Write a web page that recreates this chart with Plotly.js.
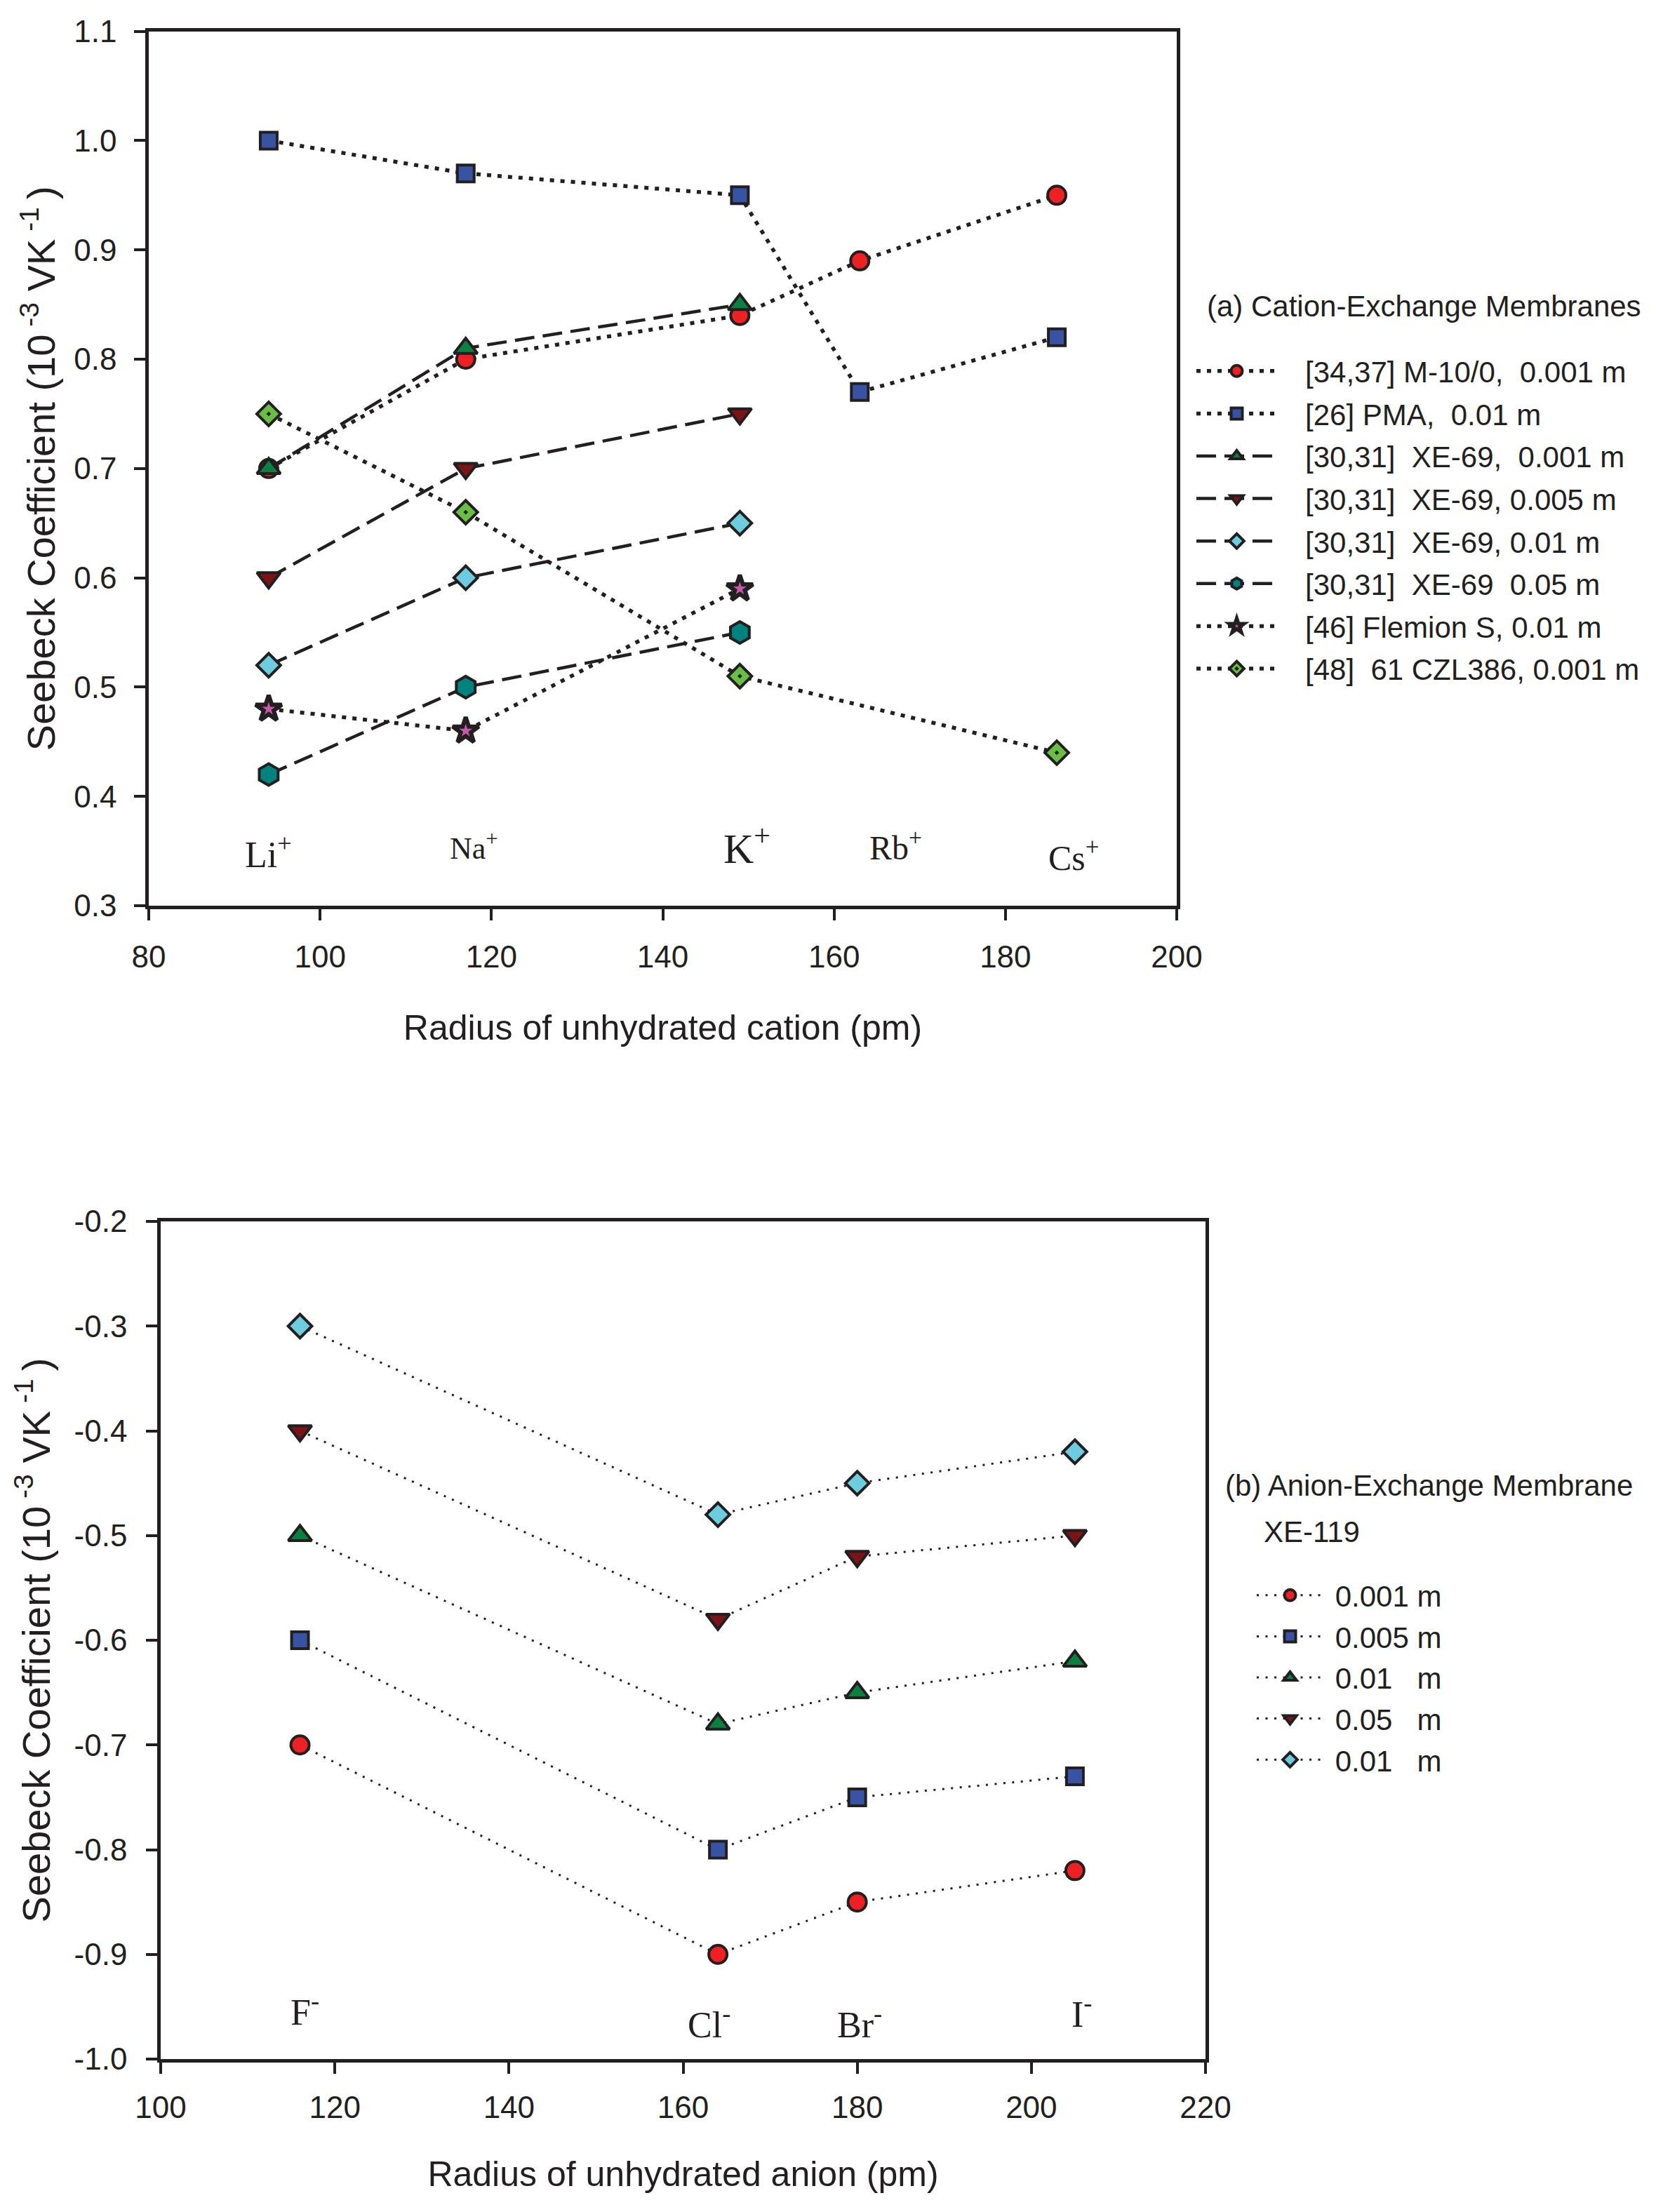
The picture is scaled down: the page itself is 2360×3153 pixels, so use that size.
<!DOCTYPE html>
<html>
<head>
<meta charset="utf-8">
<script src="https://cdn.plot.ly/plotly-3.0.1.min.js"></script>
<style>
  html, body { margin: 0; padding: 0; background: #fff; }
  #graph { width: 2360px; height: 3153px; }
</style>
</head>
<body>
<div id="graph"></div>
<script>
// ---- data ----
// (a) cation-exchange membranes, radius of unhydrated cation (pm)
var cationRadius = [94, 117, 149, 163, 186];
var cationLabels = ["Li<sup>+</sup>", "Na<sup>+</sup>", "K<sup>+</sup>", "Rb<sup>+</sup>", "Cs<sup>+</sup>"];
var m10_0001  = [0.70, 0.80, 0.84, 0.89, 0.95];
var pma_001   = [1.00, 0.97, 0.95, 0.77, 0.82];
var xe69_0001 = [0.70, 0.81, 0.85, null, null];
var xe69_0005 = [0.60, 0.70, 0.75, null, null];
var xe69_001  = [0.52, 0.60, 0.65, null, null];
var xe69_005  = [0.42, 0.50, 0.55, null, null];
var flemion   = [0.48, 0.46, 0.59, null, null];
var czl386    = [0.75, 0.66, 0.51, null, 0.44];

// (b) anion-exchange membrane XE-119, radius of unhydrated anion (pm)
var anionRadius = [116, 164, 180, 205];
var anionLabels = ["F<sup>-</sup>", "Cl<sup>-</sup>", "Br<sup>-</sup>", "I<sup>-</sup>"];
var xe119_0001 = [-0.70, -0.90, -0.85, -0.82];
var xe119_0005 = [-0.60, -0.80, -0.75, -0.73];
var xe119_001  = [-0.50, -0.68, -0.65, -0.62];
var xe119_005  = [-0.40, -0.58, -0.52, -0.50];
var xe119_001b = [-0.30, -0.48, -0.45, -0.42];

// tick labels
var cationTicks = [0.3, 0.4, 0.5, 0.6, 0.7, 0.8, 0.9, 1.0, 1.1];
var anionTicks = [-1.0, -0.9, -0.8, -0.7, -0.6, -0.5, -0.4, -0.3, -0.2];
var anionTickText = ["-1.0", "-0.9", "-0.8", "-0.7", "-0.6", "-0.5", "-0.4", "-0.3", "-0.2"];

// ---- styles ----
var INK = "#231F20";
var SANS = "Liberation Sans, Arial, sans-serif";
var SERIF = "Liberation Serif, Times New Roman, serif";
var DOT_A = "6px,9px";
var DASH_A = "28px,12px";
var DOT_B = "3px,9.5px";
var NB = "\u00A0";

var groupCount = 0;
function series(x, y, name, dash, lw, symbol, color, size, legend, xa, ya, mlw) {
  groupCount += 1;
  var pad = legend === "legend" ? NB + NB + NB : NB;
  return {
    x: x, y: y, name: pad + name, type: "scatter", mode: "lines+markers",
    xaxis: xa, yaxis: ya, legend: legend, legendgroup: "g" + groupCount,
    connectgaps: true,
    line: {color: INK, width: lw, dash: dash},
    marker: {symbol: symbol, color: color, size: size, line: {color: INK, width: mlw || 4}}
  };
}

var traces = [
  series(cationRadius, m10_0001,  "[34,37] M-10/0,  0.001 m", DOT_A, 5.5, "circle", "#ED2024", 26, "legend", "x", "y"),
  series(cationRadius, pma_001,   "[26] PMA,  0.01 m", DOT_A, 5.5, "square", "#3953A4", 24, "legend", "x", "y"),
  series(cationRadius, xe69_0001, "[30,31]  XE-69,  0.001 m", DASH_A, 4.5, "triangle-up", "#0B8040", 29, "legend", "x", "y"),
  series(cationRadius, xe69_0005, "[30,31]  XE-69, 0.005 m", DASH_A, 4.5, "triangle-down", "#7A1416", 29, "legend", "x", "y"),
  series(cationRadius, xe69_001,  "[30,31]  XE-69, 0.01 m", DASH_A, 4.5, "diamond", "#6DCCDD", 26, "legend", "x", "y"),
  series(cationRadius, xe69_005,  "[30,31]  XE-69  0.05 m", DASH_A, 4.5, "hexagon", "#00827F", 31, "legend", "x", "y"),
  series(cationRadius, flemion,   "[46] Flemion S, 0.01 m", DOT_A, 5.5, "star", "#C25BA8", 28, "legend", "x", "y", 6),
  series(cationRadius, czl386,    "[48]  61 CZL386, 0.001 m", DOT_A, 5.5, "diamond-dot", "#6ABD45", 26, "legend", "x", "y"),

  series(anionRadius, xe119_0001, "0.001 m", DOT_B, 3, "circle", "#ED2024", 26, "legend2", "x2", "y2"),
  series(anionRadius, xe119_0005, "0.005 m", DOT_B, 3, "square", "#3953A4", 24, "legend2", "x2", "y2"),
  series(anionRadius, xe119_001,  "0.01   m", DOT_B, 3, "triangle-up", "#0B8040", 29, "legend2", "x2", "y2"),
  series(anionRadius, xe119_005,  "0.05   m", DOT_B, 3, "triangle-down", "#7A1416", 29, "legend2", "x2", "y2"),
  series(anionRadius, xe119_001b, "0.01   m", DOT_B, 3, "diamond", "#6DCCDD", 26, "legend2", "x2", "y2")
];

function axisStyle(extra) {
  var a = {
    showgrid: false, zeroline: false, showline: true, mirror: true,
    linecolor: INK, linewidth: 4.5,
    ticks: "outside", ticklen: 16, tickwidth: 4, tickcolor: INK,
    tickfont: {family: SANS, size: 44, color: INK}
  };
  for (var k in extra) a[k] = extra[k];
  return a;
}

var W = 2360, H = 3153;
function px(v) { return v / W; }
function py(v) { return 1 - v / H; }

// ion labels: font sizes and nudges follow the original artwork
var cationLabelSize = [52, 44, 60, 48, 50];
var cationLabelDx = [0, 1, 0.8, 4.2, 2];
var cationLabelY = [0.349, 0.354, 0.355, 0.355, 0.346];
var anionLabelDx = [0.6, -1, 0.3, 0.8];
var anionLabelY = [-0.953, -0.965, -0.965, -0.955];

var annotations = [];
cationLabels.forEach(function (t, i) {
  annotations.push({xref: "x", yref: "y", x: cationRadius[i] + cationLabelDx[i], y: cationLabelY[i],
    text: t, showarrow: false, font: {family: SERIF, size: cationLabelSize[i], color: INK}});
});
anionLabels.forEach(function (t, i) {
  annotations.push({xref: "x2", yref: "y2", x: anionRadius[i] + anionLabelDx[i], y: anionLabelY[i],
    text: t, showarrow: false, font: {family: SERIF, size: 52, color: INK}});
});
annotations.push({xref: "paper", yref: "paper", x: px(1718), y: py(437), xanchor: "left", yanchor: "middle",
  text: "(a) Cation-Exchange Membranes", showarrow: false, font: {family: SANS, size: 42, color: INK}});
annotations.push({xref: "paper", yref: "paper", x: px(1744), y: py(2117), xanchor: "left", yanchor: "middle",
  text: "(b) Anion-Exchange Membrane", showarrow: false, font: {family: SANS, size: 42, color: INK}});
annotations.push({xref: "paper", yref: "paper", x: px(1799), y: py(2183), xanchor: "left", yanchor: "middle",
  text: "XE-119", showarrow: false, font: {family: SANS, size: 42, color: INK}});

var yTitle = "Seebeck Coefficient (10<sup> -3</sup> VK<sup> -1 </sup>)";

var layout = {
  width: W, height: H,
  margin: {l: 0, r: 0, t: 0, b: 0},
  paper_bgcolor: "#fff", plot_bgcolor: "#fff",
  font: {family: SANS, color: INK},
  showlegend: true,
  xaxis: axisStyle({domain: [px(212), px(1677)], range: [80, 200], dtick: 20, tick0: 80,
    ticklabelstandoff: 14, anchor: "y",
    title: {text: "Radius of unhydrated cation (pm)", font: {family: SANS, size: 50, color: INK}, standoff: 62}}),
  yaxis: axisStyle({domain: [py(1291), py(44.6)], range: [0.3, 1.1],
    tickmode: "array", tickvals: cationTicks, tickformat: ".1f", ticklabelstandoff: 16, anchor: "x",
    title: {text: yTitle, font: {family: SANS, size: 56, color: INK}, standoff: 10}}),
  xaxis2: axisStyle({domain: [px(229), px(1718)], range: [100, 220], dtick: 20, tick0: 100,
    ticklabelstandoff: 10, anchor: "y2",
    title: {text: "Radius of unhydrated anion (pm)", font: {family: SANS, size: 50, color: INK}, standoff: 56}}),
  yaxis2: axisStyle({domain: [py(2935), py(1741)], range: [-1.0, -0.2],
    tickmode: "array", tickvals: anionTicks, ticktext: anionTickText, ticklabelstandoff: 18, anchor: "x2",
    title: {text: yTitle, font: {family: SANS, size: 56, color: INK}, standoff: 18}}),
  legend: {x: px(1700), y: py(495), xanchor: "left", yanchor: "top",
    bgcolor: "rgba(0,0,0,0)", borderwidth: 0, traceorder: "grouped", tracegroupgap: 3,
    itemwidth: 115, font: {family: SANS, size: 42, color: INK}},
  legend2: {x: px(1786), y: py(2240), xanchor: "left", yanchor: "top",
    bgcolor: "rgba(0,0,0,0)", borderwidth: 0, traceorder: "grouped", tracegroupgap: 1,
    itemwidth: 95, font: {family: SANS, size: 42, color: INK}},
  annotations: annotations
};

Plotly.newPlot("graph", traces, layout, {displayModeBar: false});
</script>
</body>
</html>
